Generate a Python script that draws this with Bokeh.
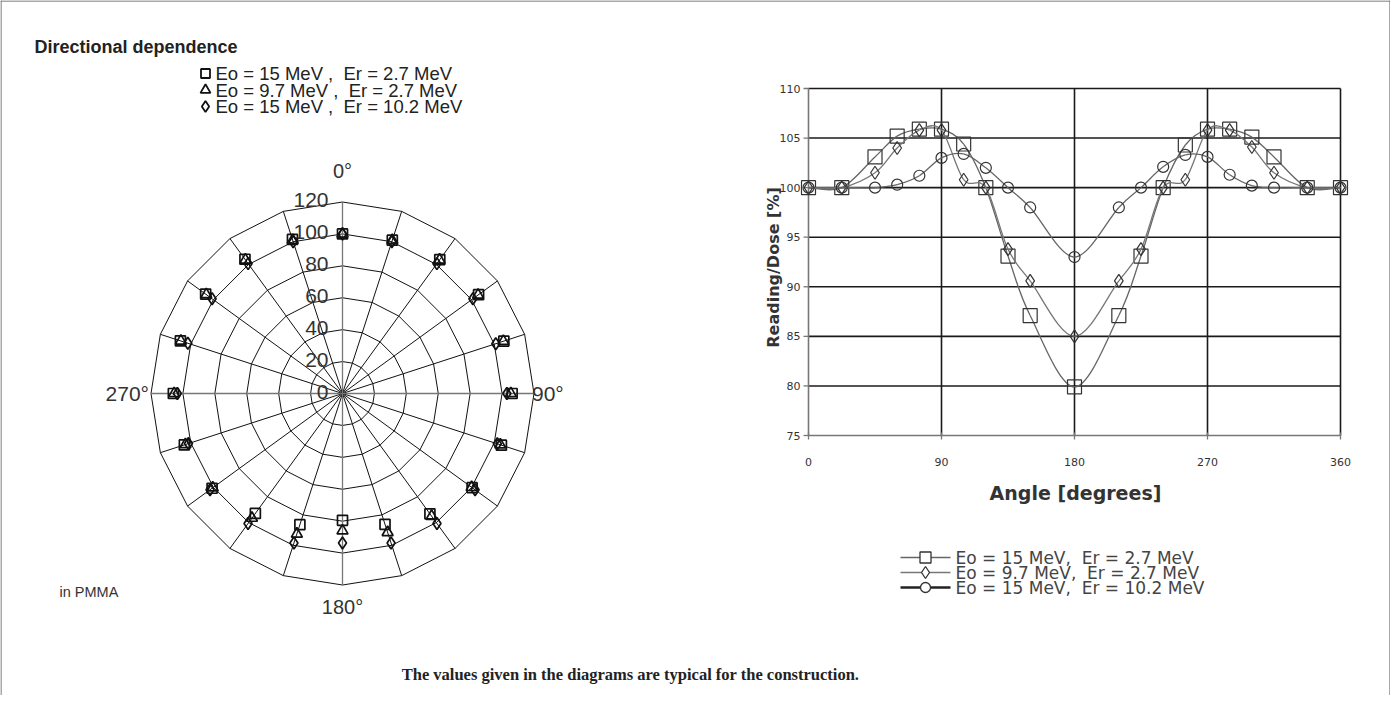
import numpy as np
from bokeh.plotting import figure
from bokeh.models import Range1d
from bokeh.core.properties import value
from bokeh.embed import file_html
from bokeh.resources import INLINE

# ---------------- data ----------------
TITLE = "Directional dependence"
CAPTION = "The values given in the diagrams are typical for the construction."
NOTE = "in PMMA"
SERIES_LABELS = ["Eo = 15 MeV ,\u00a0 Er = 2.7 MeV",
                 "Eo = 9.7 MeV ,\u00a0 Er = 2.7 MeV",
                 "Eo = 15 MeV ,\u00a0 Er = 10.2 MeV"]
SERIES_LABELS_R = ["Eo = 15 MeV,\u00a0 Er = 2.7 MeV",
                   "Eo = 9.7 MeV,\u00a0 Er = 2.7 MeV",
                   "Eo = 15 MeV,\u00a0 Er = 10.2 MeV"]

# polar diagram (angle in degrees, reading in %)
POLAR_ANGLES = [0, 18, 36, 54, 72, 90, 108, 126, 144, 162,
                180, 198, 216, 234, 252, 270, 288, 306, 324, 342]
POLAR_E15_ER27 = [100, 101, 103.7, 105.4, 106.3, 106.3, 104.7, 100.4, 93.2, 86.2,
                  79.5, 86.4, 92.9, 101, 104.2, 106, 106.8, 106, 104, 101.5]
POLAR_E97_ER27 = [100, 101, 103.5, 105, 106, 105.5, 104, 100, 95, 91.5,
                  86, 92.5, 96.5, 100.5, 103.5, 105.5, 106.5, 105.5, 103.5, 101]
POLAR_E15_ER102 = [100, 100, 100.6, 101, 101, 103, 102, 102.7, 100.7, 98.5,
                   93.7, 98.5, 100.7, 102.6, 101.5, 103.5, 101.9, 101, 100.6, 100]
POLAR_RINGS = [0, 20, 40, 60, 80, 100, 120]
POLAR_SPOKES = [0, 18, 36, 54, 72, 90, 108, 126, 144, 162,
                180, 198, 216, 234, 252, 270, 288, 306, 324, 342]
POLAR_DIR_LABELS = ["0°", "90°", "180°", "270°"]

# cartesian diagram
LINE_ANGLES = [0, 22.5, 45, 60, 75, 90, 105, 120, 135, 150, 180,
               210, 225, 240, 255, 270, 285, 300, 315, 337.5, 360]
LINE_E15_ER27 = [100, 100, 103.1, 105.2, 105.9, 105.9, 104.4, 100, 93.1, 87.1, 79.9,
                 87.1, 93.1, 100, 104.3, 105.9, 105.9, 105.1, 103.1, 100, 100]
LINE_E97_ER27 = [100, 100, 101.5, 104, 105.8, 105.8, 100.8, 100, 93.8, 90.6, 85,
                 90.6, 93.8, 100, 100.8, 105.8, 105.8, 104.1, 101.5, 100, 100]
LINE_E15_ER102 = [100, 100, 100, 100.3, 101.2, 103, 103.4, 102, 100, 98, 93,
                  98, 100, 102.1, 103.3, 103.1, 101.3, 100.2, 100, 100, 100]
Y_TICKS = [75, 80, 85, 90, 95, 100, 105, 110]
X_TICKS = [0, 90, 180, 270, 360]
X_TITLE = "Angle [degrees]"
Y_TITLE = "Reading/Dose [%]"

# ---------------- figure ----------------
W, H = 1390, 695
p = figure(width=W, height=H, x_range=Range1d(0, W), y_range=Range1d(H, 0),
           output_backend="svg", toolbar_location=None, min_border=0)
p.axis.visible = False
p.grid.visible = False
p.outline_line_color = None
p.background_fill_color = "white"
p.border_fill_color = "white"

SANS = value("Liberation Sans")
DEJ = value("DejaVu Sans")

# frame border (top, left, right)
p.multi_line(xs=[[0.5, 0.5], [0, W - 0.5], [W - 0.5, W - 0.5]],
             ys=[[H, 0], [0.5, 0.5], [0, H]], line_color="#555555", line_width=1)

p.text(x=[34], y=[46], text=[TITLE], text_font=SANS, text_font_size="18px",
       text_font_style="bold", text_color="#222222", text_baseline="middle")
p.text(x=[59], y=[591], text=[NOTE], text_font=SANS, text_font_size="14.5px",
       text_color="#333333", text_baseline="middle")
p.text(x=[630], y=[674], text=[CAPTION], text_font=value("Liberation Serif"),
       text_font_size="16.5px", text_font_style="bold", text_color="#222222",
       text_baseline="middle", text_align="center")

# ---------------- polar diagram ----------------
CX, CY, R = 342, 393, 191.5
k = R / 120.0
pol = p.subplot(x_source=Range1d(-130, 130), y_source=Range1d(-130, 130),
                x_target=Range1d(CX - 130 * k, CX + 130 * k),
                y_target=Range1d(CY + 130 * k, CY - 130 * k))

sp = np.radians(POLAR_SPOKES)
ring_xs, ring_ys = [], []
for r in POLAR_RINGS[1:]:
    ring_xs.append(list(r * np.sin(np.append(sp, sp[0]))))
    ring_ys.append(list(r * np.cos(np.append(sp, sp[0]))))
pol.multi_line(xs=ring_xs, ys=ring_ys, line_color="#111111", line_width=1)

rmax = POLAR_RINGS[-1]
other = [a for a in POLAR_SPOKES if a % 90 != 0]
main_ax = [a for a in POLAR_SPOKES if a % 90 == 0]
oa = np.radians(other)
pol.segment(x0=[0] * len(oa), y0=[0] * len(oa), x1=list(rmax * np.sin(oa)),
            y1=list(rmax * np.cos(oa)), line_color="#111111", line_width=1)
ma = np.radians(main_ax)
pol.segment(x0=[0] * len(ma), y0=[0] * len(ma), x1=list(rmax * np.sin(ma)),
            y1=list(rmax * np.cos(ma)), line_color="#777777", line_width=1.3)

# radial labels
pol.text(x=[-14 / k] * len(POLAR_RINGS), y=[r + 2 / k for r in POLAR_RINGS],
         text=[str(r) for r in POLAR_RINGS], text_font=SANS, text_font_size="21px",
         text_color="#333333", text_align="right", text_baseline="middle")

# direction labels
pol.text(x=[0], y=[rmax + 31 / k], text=[POLAR_DIR_LABELS[0]],
         text_font=SANS, text_font_size="20px", text_color="#333333",
         text_align="center", text_baseline="middle")
pol.text(x=[rmax - 2 / k], y=[0], text=[POLAR_DIR_LABELS[1]],
         text_font=SANS, text_font_size="21px", text_color="#333333",
         text_align="left", text_baseline="middle")
pol.text(x=[0], y=[-(rmax + 22 / k)], text=[POLAR_DIR_LABELS[2]],
         text_font=SANS, text_font_size="20px", text_color="#333333",
         text_align="center", text_baseline="middle")
pol.text(x=[-(rmax + 2 / k)], y=[0], text=[POLAR_DIR_LABELS[3]],
         text_font=SANS, text_font_size="21px", text_color="#333333",
         text_align="right", text_baseline="middle")

pa = np.radians(POLAR_ANGLES)
for vals, mk, sz in [(POLAR_E15_ER102, "diamond", 12),
                     (POLAR_E97_ER27, "triangle", 11),
                     (POLAR_E15_ER27, "square", 10)]:
    v = np.array(vals)
    pol.scatter(x=list(v * np.sin(pa)), y=list(v * np.cos(pa)), marker=mk, size=sz,
                fill_color=None, line_color="#111111", line_width=1.7)

# polar legend
leg_y = [73, 89.5, 106]
p.scatter(x=[205, 205, 205], y=leg_y, marker=["square", "triangle", "diamond"],
          size=[9, 10, 11], fill_color=None, line_color="#111111", line_width=1.8)
p.text(x=[215] * 3, y=leg_y, text=SERIES_LABELS, text_font=SANS, text_font_size="18.5px",
       text_color="#222222", text_baseline="middle")

# ---------------- cartesian diagram ----------------
X0, X1, YT, YB = 808, 1340, 88, 435
kx = (X1 - X0) / 360.0
ky = (YB - YT) / 35.0
cart = p.subplot(x_source=Range1d(0, 360), y_source=Range1d(75, 110),
                 x_target=Range1d(X0, X1), y_target=Range1d(YB, YT))

# grid
cart.segment(x0=[0] * len(Y_TICKS[1:]), x1=[360] * len(Y_TICKS[1:]), y0=Y_TICKS[1:], y1=Y_TICKS[1:],
             line_color="#1a1a1a", line_width=1.6)
cart.segment(x0=X_TICKS[1:], x1=X_TICKS[1:], y0=[75] * 4, y1=[110] * 4,
             line_color="#1a1a1a", line_width=1.6)
# axes
cart.segment(x0=[0, 0], x1=[0, 360], y0=[75, 75], y1=[110, 75], line_color="#777777", line_width=1.6)
cart.segment(x0=[-5 / kx] * len(Y_TICKS), x1=[0] * len(Y_TICKS), y0=Y_TICKS, y1=Y_TICKS,
             line_color="#777777", line_width=1.3)
cart.segment(x0=X_TICKS, x1=X_TICKS, y0=[75 - 4 / ky] * 5, y1=[75 + 3 / ky] * 5,
             line_color="#777777", line_width=1.3)
cart.text(x=[-8 / kx] * len(Y_TICKS), y=Y_TICKS, text=[str(t) for t in Y_TICKS],
          text_font=DEJ, text_font_size="11px", text_color="#333333",
          text_align="right", text_baseline="middle")
cart.text(x=X_TICKS, y=[75 - 26 / ky] * 5, text=[str(t) for t in X_TICKS],
          text_font=DEJ, text_font_size="11px", text_color="#333333",
          text_align="center", text_baseline="middle")

p.text(x=[1075], y=[492], text=[X_TITLE], text_font=DEJ, text_font_size="19px",
       text_font_style="bold", text_color="#333333", text_align="center", text_baseline="middle")
p.text(x=[773], y=[267], text=[Y_TITLE], text_font=DEJ, text_font_size="16px",
       text_font_style="bold", text_color="#333333", text_align="center",
       text_baseline="middle", angle=np.pi / 2)


def smooth_segments(xs, ys):
    n = len(xs)
    out = {k_: [] for k_ in ["x0", "y0", "x1", "y1", "cx0", "cy0", "cx1", "cy1"]}
    for i in range(n - 1):
        i0 = max(i - 1, 0)
        i3 = min(i + 2, n - 1)
        out["x0"].append(xs[i]); out["y0"].append(ys[i])
        out["x1"].append(xs[i + 1]); out["y1"].append(ys[i + 1])
        out["cx0"].append(xs[i] + (xs[i + 1] - xs[i0]) / 6.0)
        out["cy0"].append(ys[i] + (ys[i + 1] - ys[i0]) / 6.0)
        out["cx1"].append(xs[i + 1] - (xs[i3] - xs[i]) / 6.0)
        out["cy1"].append(ys[i + 1] - (ys[i3] - ys[i]) / 6.0)
    return out


series = [(LINE_E15_ER27, "square", 14, "#666666"),
          (LINE_E97_ER27, "diamond", 13, "#777777"),
          (LINE_E15_ER102, "circle", 11, "#666666")]
for vals, mk, sz, col in series:
    seg = smooth_segments(LINE_ANGLES, vals)
    cart.bezier(line_color=col, line_width=1.3, **seg)
    cart.scatter(x=LINE_ANGLES, y=vals, marker=mk, size=sz, fill_color=None,
                 line_color="#333333", line_width=1.2)

# cartesian legend
ly = [557, 572, 587]
lcols = ["#666666", "#777777", "#222222"]
lw = [1.5, 1.5, 2.5]
for i in range(3):
    p.line(x=[900, 950], y=[ly[i], ly[i]], line_color=lcols[i], line_width=lw[i])
p.scatter(x=[925] * 3, y=ly, marker=["square", "diamond", "circle"], size=[11, 12, 10],
          fill_color="white", line_color="#333333", line_width=1.3)
p.text(x=[955] * 3, y=ly, text=SERIES_LABELS_R, text_font=DEJ, text_font_size="17px",
       text_color="#444444", text_baseline="middle")

open("out.html", "w").write(file_html(p, INLINE))
